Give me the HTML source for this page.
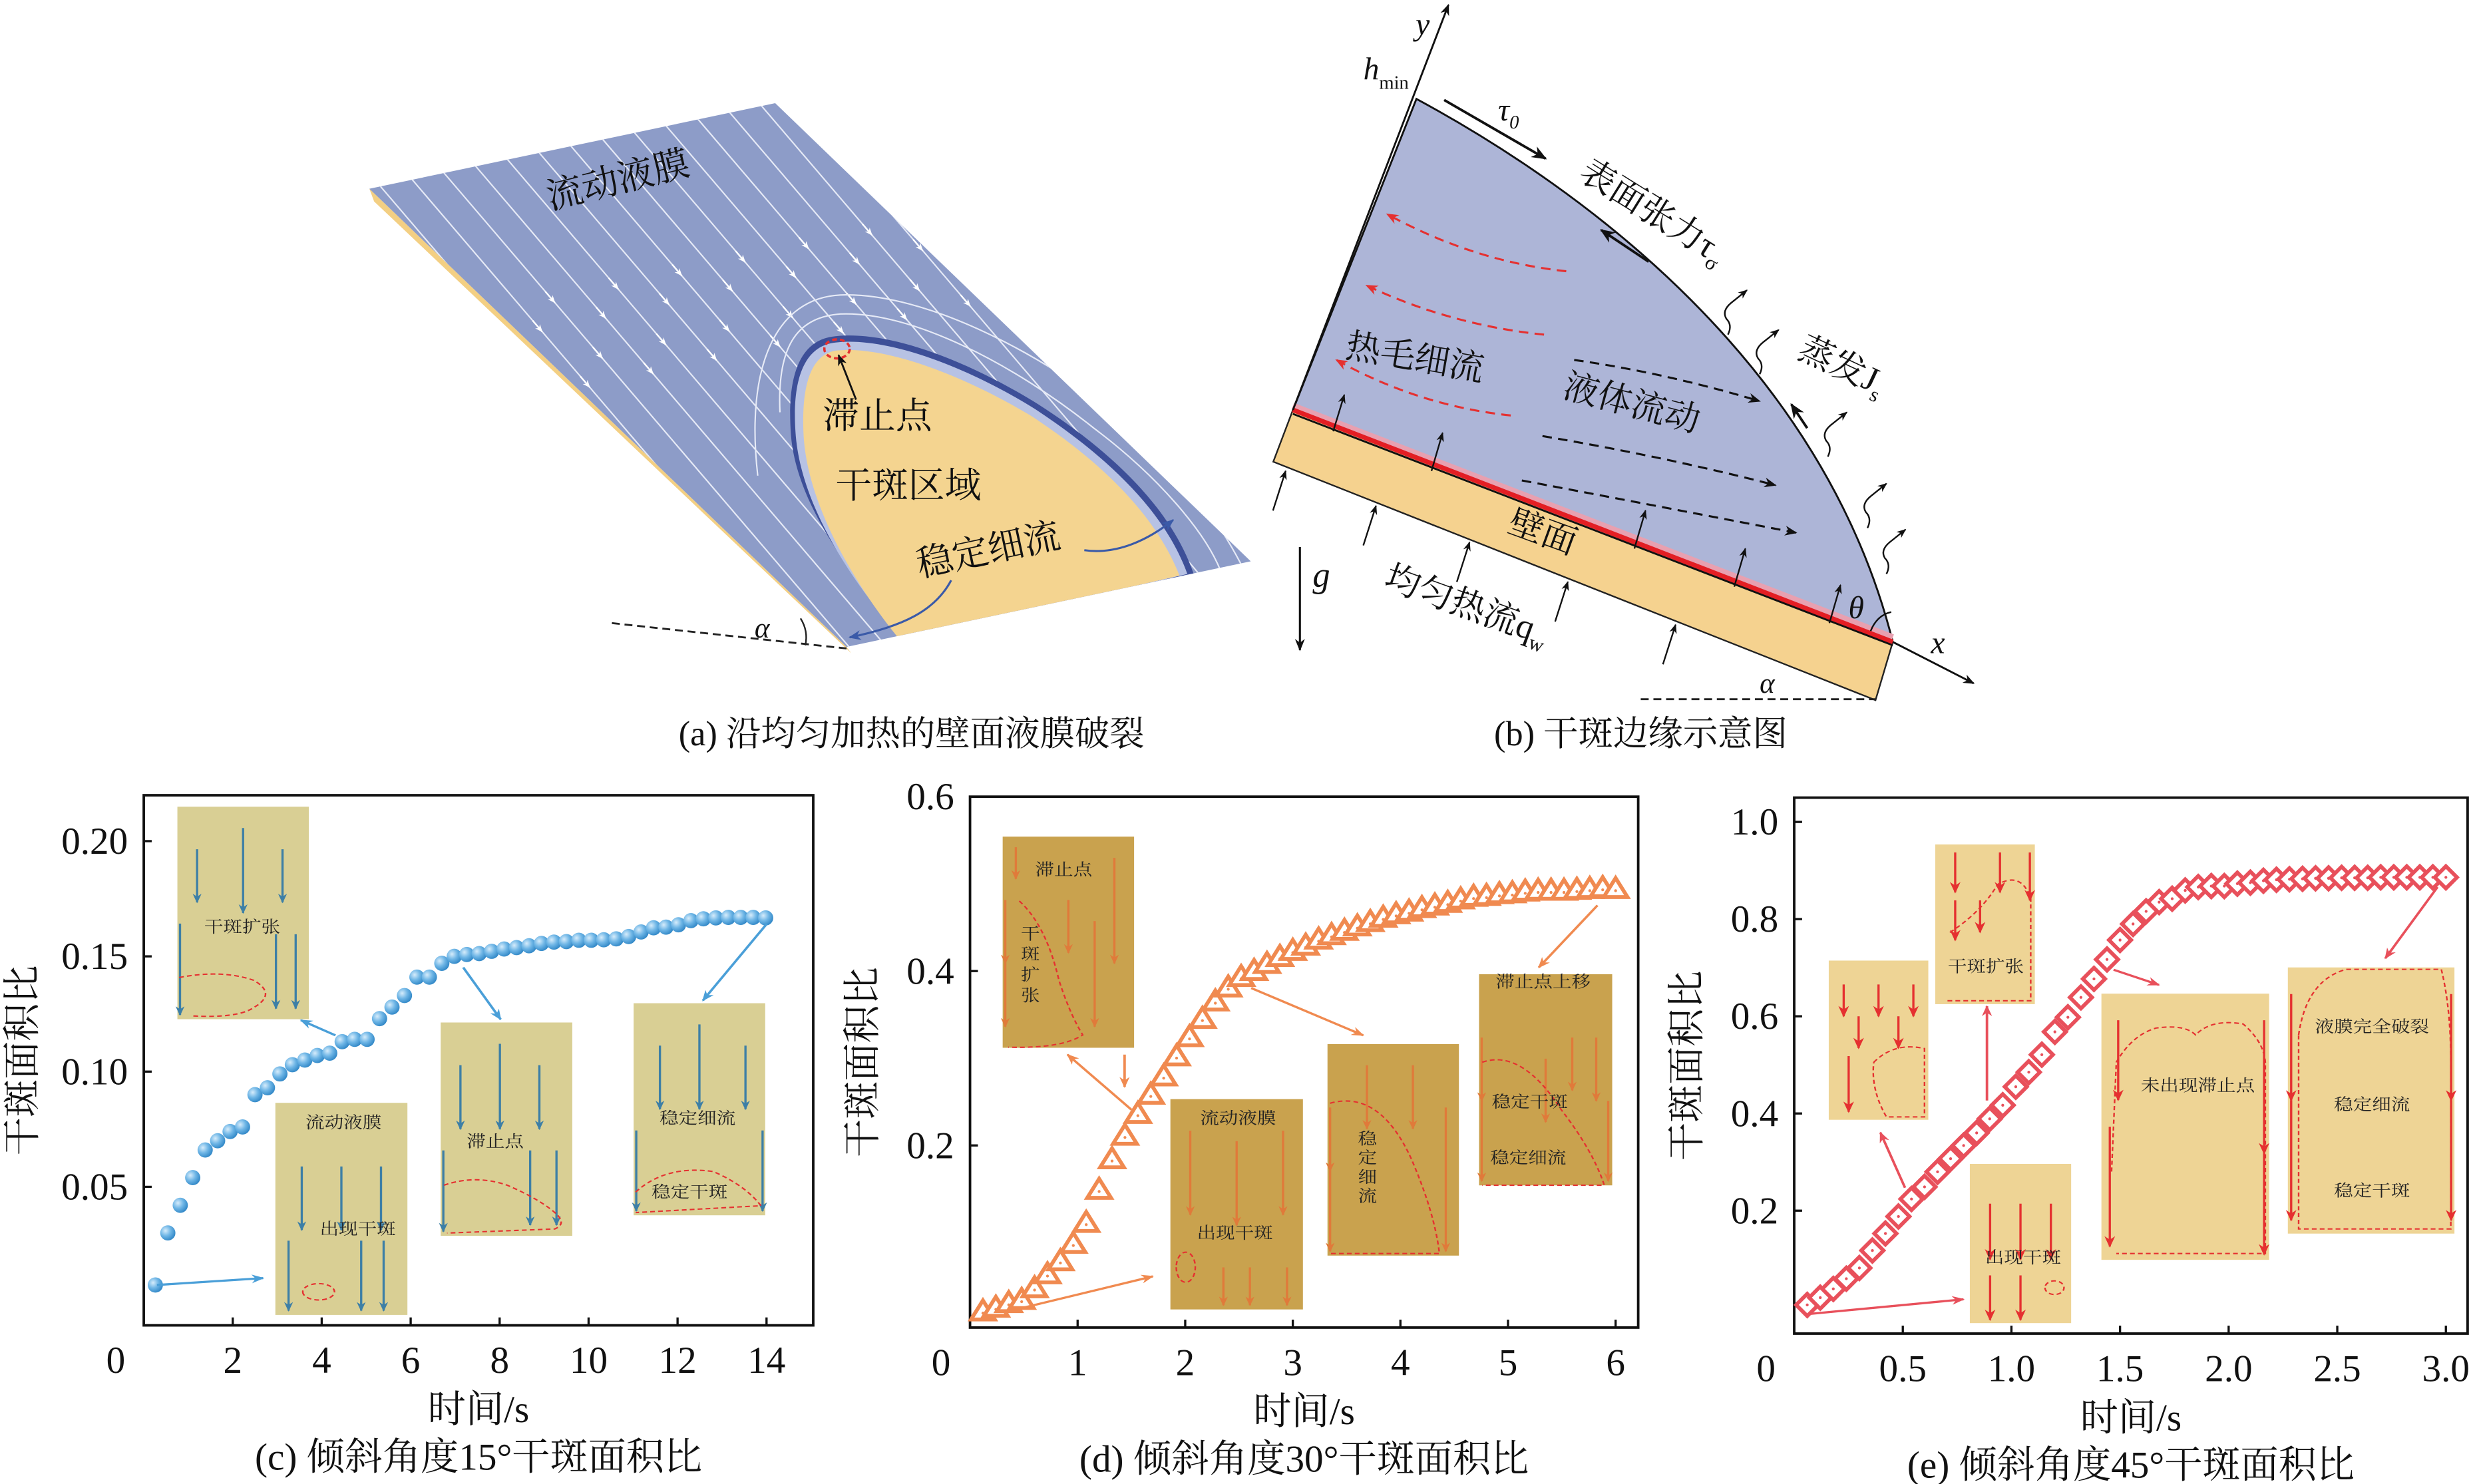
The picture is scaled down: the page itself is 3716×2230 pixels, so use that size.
<!DOCTYPE html>
<html><head><meta charset="utf-8"><title>干斑</title>
<style>
html,body{margin:0;padding:0;background:#fff;overflow:hidden;}
svg{display:block;}
text{font-family:"Liberation Serif","Noto Serif CJK SC","Noto Sans CJK SC",serif;}
</style></head>
<body>
<svg id="fig" xmlns="http://www.w3.org/2000/svg" width="3716" height="2230" viewBox="0 0 1560 936">
<defs>
<radialGradient id="sph" cx="0.35" cy="0.35" r="0.7"><stop offset="0" stop-color="#d6ecfb"/><stop offset="0.5" stop-color="#6fb6e6"/><stop offset="1" stop-color="#2f86c6"/></radialGradient>
<marker id="ahK" viewBox="0 0 10 10" refX="9" refY="5" markerWidth="6" markerHeight="6" orient="auto"><path d="M0,1 L10,5 L0,9 L3,5Z" fill="#111"/></marker>
<marker id="ahR" viewBox="0 0 10 10" refX="9" refY="5" markerWidth="6" markerHeight="6" orient="auto"><path d="M0,1 L10,5 L0,9 L3,5Z" fill="#e53030"/></marker>
<marker id="ahW" viewBox="0 0 10 10" refX="9" refY="5" markerWidth="5" markerHeight="5" orient="auto"><path d="M0,1 L10,5 L0,9 L3,5Z" fill="#fff"/></marker>
<marker id="ahB" viewBox="0 0 10 10" refX="9" refY="5" markerWidth="5" markerHeight="5" orient="auto"><path d="M0,1 L10,5 L0,9 L3,5Z" fill="#4a9fd8"/></marker>
<marker id="ahO" viewBox="0 0 10 10" refX="9" refY="5" markerWidth="5" markerHeight="5" orient="auto"><path d="M0,1 L10,5 L0,9 L3,5Z" fill="#f08a50"/></marker>
<marker id="ahP" viewBox="0 0 10 10" refX="9" refY="5" markerWidth="5" markerHeight="5" orient="auto"><path d="M0,1 L10,5 L0,9 L3,5Z" fill="#e8505b"/></marker>
<marker id="ahBl" viewBox="0 0 10 10" refX="9" refY="5" markerWidth="5" markerHeight="5" orient="auto"><path d="M0,1 L10,5 L0,9 L3,5Z" fill="#3d7fa6"/></marker>
<marker id="ahOr" viewBox="0 0 10 10" refX="9" refY="5" markerWidth="5" markerHeight="5" orient="auto"><path d="M0,1 L10,5 L0,9 L3,5Z" fill="#e07a3a"/></marker>
<marker id="ahN" viewBox="0 0 10 10" refX="9" refY="5" markerWidth="6" markerHeight="6" orient="auto"><path d="M0,1 L10,5 L0,9 L3,5Z" fill="#3a5aa8"/></marker>
<clipPath id="plateClip"><polygon points="233,119 489,65 789,354 534,408"/></clipPath>
</defs>

<!-- Panel (a) -->
<g>
<polygon points="233,119 236,127 537,412 534,408" fill="#f3cf83"/>
<polygon points="233,119 489,65 789,354 534,408" fill="#8d9cc8"/>
<g id="streams" clip-path="url(#plateClip)"></g>
<g clip-path="url(#plateClip)">
<path d="M492,260 C490,215 505,200 530,198 C575,196 640,230 690,270 C730,300 760,335 770,360" fill="none" stroke="#e6eaf6" stroke-width="0.9"/>
<path d="M478,300 C470,230 490,188 530,186 C585,184 660,225 710,265 C745,295 770,330 785,360" fill="none" stroke="#e6eaf6" stroke-width="0.9"/>
<path d="M574,406 C544,372 503,322 499,275 C496,236 505,214 527,212 C563,208 615,230 655,255 C697,282 738,318 753,362 Z" fill="#3d4f98"/>
<path d="M571,405 C541,372 506,322 502,275 C499,238 508,218 527,216 C561,212 613,233 653,258 C694,285 734,320 749,362 Z" fill="#b7c2e4"/>
<path d="M568,404 C540,370 510,320 507,276 C505,242 512,223 528,221 C560,218 610,238 650,262 C690,288 728,322 744,363 Z" fill="#f4d490"/>
</g>
<ellipse cx="528" cy="220" rx="8" ry="6" fill="none" stroke="#e53030" stroke-width="1.5" stroke-dasharray="3,2"/>
<text x="347" y="132" font-size="23" fill="#111" transform="rotate(-14 347 132)">流动液膜</text>
<line x1="540" y1="252" x2="529" y2="224" stroke="#111" stroke-width="1.2" marker-end="url(#ahK)"/>
<text x="519" y="270" font-size="23" fill="#111">滞止点</text>
<text x="527" y="314" font-size="23" fill="#111">干斑区域</text>
<text x="580" y="364" font-size="23" fill="#111" transform="rotate(-12 580 364)">稳定细流</text>
<path d="M600,366 C590,385 570,395 536,402" fill="none" stroke="#3a5aa8" stroke-width="1.3" marker-end="url(#ahN)"/>
<path d="M684,347 C705,350 725,340 740,328" fill="none" stroke="#3a5aa8" stroke-width="1.3" marker-end="url(#ahN)"/>
<line x1="386" y1="393" x2="534" y2="409" stroke="#222" stroke-width="1.2" stroke-dasharray="5,3"/>
<path d="M505,390 Q510,398 508,407" fill="none" stroke="#222" stroke-width="1"/>
<text x="476" y="402" font-size="18" font-style="italic" fill="#111">α</text>
<text x="575" y="470" font-size="22" text-anchor="middle" fill="#111">(a) 沿均匀加热的壁面液膜破裂</text>
</g>

<!-- Panel (b) -->
<g>
<polygon points="815.6,258.5 1194,404.9 1183.1,441.6 803.2,291.2" fill="#f5d28f" stroke="#222" stroke-width="1"/>
<path d="M893.5,62.3 C1000,120 1150,230 1194,404.9 L815.6,258.5 Z" fill="#adb5d7" stroke="#111" stroke-width="1.2"/>
<line x1="815.6" y1="256" x2="1194" y2="402" stroke="#e8a0b0" stroke-width="4"/>
<line x1="815.6" y1="258.5" x2="1194" y2="404.9" stroke="#e31e24" stroke-width="3"/>
<line x1="815.6" y1="261" x2="1194" y2="407" stroke="#111" stroke-width="1.2"/>
<line x1="815.6" y1="258.5" x2="913.7" y2="3" stroke="#111" stroke-width="1.2" marker-end="url(#ahK)"/>
<text x="893" y="22" font-size="20" font-style="italic" fill="#111">y</text>
<line x1="1194" y1="404.9" x2="1245" y2="431" stroke="#111" stroke-width="1.2" marker-end="url(#ahK)"/>
<text x="1218" y="412" font-size="20" font-style="italic" fill="#111">x</text>
<text x="860" y="50" font-size="20" font-style="italic" fill="#111">h<tspan font-size="12" font-style="normal" dy="6">min</tspan></text>
<line x1="911" y1="63" x2="975" y2="100" stroke="#111" stroke-width="1.6" marker-end="url(#ahK)"/>
<text x="945" y="76" font-size="20" font-style="italic" fill="#111">τ<tspan font-size="12" dy="5">0</tspan></text>
<line x1="1040" y1="165" x2="1010" y2="145" stroke="#111" stroke-width="1.6" marker-end="url(#ahK)"/>
<text x="995" y="112" font-size="22" fill="#111" transform="rotate(32 995 112)">表面张力τ<tspan font-size="13" dy="5">σ</tspan></text>
<line x1="1140" y1="270" x2="1130" y2="255" stroke="#111" stroke-width="1.6" marker-end="url(#ahK)"/>
<text x="1133" y="225" font-size="22" fill="#111" transform="rotate(25 1133 225)">蒸发J<tspan font-size="13" dy="5">s</tspan></text>
<g fill="none" stroke="#111" stroke-width="1">
<path d="M1090,211 q3,-6 -1,-10 q-3,-5 3,-10 l10,-8" marker-end="url(#ahK)"/>
<path d="M1110,236 q3,-6 -1,-10 q-3,-5 3,-10 l10,-8" marker-end="url(#ahK)"/>
<path d="M1153,288 q3,-6 -1,-10 q-3,-5 3,-10 l10,-8" marker-end="url(#ahK)"/>
<path d="M1178,333 q3,-6 -1,-10 q-3,-5 3,-10 l10,-8" marker-end="url(#ahK)"/>
<path d="M1190,362 q3,-6 -1,-10 q-3,-5 3,-10 l10,-8" marker-end="url(#ahK)"/>
</g>
<g fill="none" stroke="#e53030" stroke-width="1.3" stroke-dasharray="6,4">
<path d="M988,171 Q930,165 875,135" marker-end="url(#ahR)"/>
<path d="M974,211 Q915,205 862,180" marker-end="url(#ahR)"/>
<path d="M953,262 Q895,256 843,227" marker-end="url(#ahR)"/>
</g>
<g fill="none" stroke="#111" stroke-width="1.3" stroke-dasharray="6,4">
<path d="M993,227 Q1050,235 1110,253" marker-end="url(#ahK)"/>
<path d="M973,275 Q1050,288 1120,306" marker-end="url(#ahK)"/>
<path d="M960,303 Q1050,320 1133,336" marker-end="url(#ahK)"/>
</g>
<text x="848" y="225" font-size="22" fill="#111" transform="rotate(10 848 225)">热毛细流</text>
<text x="985" y="250" font-size="22" fill="#111" transform="rotate(15 985 250)">液体流动</text>
<text x="950" y="335" font-size="22" fill="#111" transform="rotate(20 950 335)">壁面</text>
<g stroke="#111" stroke-width="1" marker-end="url(#ahK)">
<line x1="803" y1="322" x2="811" y2="297"/><line x1="860" y1="344" x2="868" y2="319"/><line x1="919" y1="367" x2="927" y2="342"/>
<line x1="981" y1="392" x2="989" y2="367"/><line x1="1049" y1="419" x2="1057" y2="394"/><line x1="841" y1="272" x2="848" y2="249"/>
<line x1="903" y1="297" x2="910" y2="273"/><line x1="1031" y1="346" x2="1038" y2="322"/><line x1="1094" y1="370" x2="1101" y2="346"/><line x1="1154" y1="393" x2="1161" y2="369"/>
</g>
<line x1="820" y1="345" x2="820" y2="410" stroke="#111" stroke-width="1.3" marker-end="url(#ahK)"/>
<text x="828" y="370" font-size="22" font-style="italic" fill="#111">g</text>
<text x="872" y="370" font-size="22" fill="#111" transform="rotate(20 872 370)">均匀热流q<tspan font-size="13" dy="5">w</tspan></text>
<text x="1166" y="390" font-size="20" font-style="italic" fill="#111">θ</text>
<path d="M1180,398 Q1184,388 1193,386" fill="none" stroke="#111" stroke-width="1"/>
<line x1="1035" y1="441" x2="1183" y2="441" stroke="#222" stroke-width="1.2" stroke-dasharray="5,3"/>
<text x="1110" y="437" font-size="18" font-style="italic" fill="#111">α</text>
<text x="1035" y="470" font-size="22" text-anchor="middle" fill="#111">(b) 干斑边缘示意图</text>
</g>

<g id="charts"></g>
</svg>

<script>
// ---- data ----
var cTime = [0.26,0.54,0.82,1.1,1.38,1.66,1.94,2.22,2.5,2.78,3.06,3.34,3.62,3.9,4.18,4.46,4.74,5.02,5.3,5.58,5.86,6.14,6.42,6.7,6.98,7.26,7.54,7.82,8.1,8.38,8.66,8.94,9.22,9.5,9.78,10.06,10.34,10.62,10.9,11.18,11.46,11.74,12.02,12.3,12.58,12.86,13.14,13.42,13.7,13.98];
var cRatio = [0.0074,0.030,0.042,0.054,0.066,0.070,0.074,0.076,0.090,0.093,0.099,0.103,0.105,0.107,0.108,0.113,0.114,0.114,0.123,0.128,0.133,0.141,0.141,0.147,0.150,0.1508,0.1512,0.1522,0.1532,0.1538,0.1546,0.1556,0.1562,0.1564,0.157,0.157,0.1572,0.1576,0.1586,0.1606,0.1624,0.1627,0.1637,0.1655,0.1663,0.1667,0.1669,0.1669,0.1669,0.1667];
var dTime = [0.12,0.24,0.36,0.48,0.6,0.72,0.84,0.96,1.08,1.2,1.32,1.44,1.56,1.68,1.8,1.92,2.04,2.16,2.28,2.4,2.52,2.64,2.76,2.88,3.0,3.12,3.24,3.36,3.48,3.6,3.72,3.84,3.96,4.08,4.2,4.32,4.44,4.56,4.68,4.8,4.92,5.04,5.16,5.28,5.4,5.52,5.64,5.76,5.88,6.0];
var dRatio = [0.0095,0.0137,0.019,0.0226,0.036,0.052,0.067,0.087,0.111,0.149,0.184,0.211,0.236,0.258,0.279,0.302,0.324,0.345,0.365,0.381,0.393,0.400,0.408,0.416,0.423,0.429,0.436,0.441,0.446,0.451,0.456,0.461,0.465,0.468,0.472,0.475,0.478,0.482,0.485,0.486,0.488,0.489,0.491,0.492,0.492,0.492,0.493,0.494,0.495,0.494];
var eTime = [0.06,0.12,0.18,0.24,0.3,0.36,0.42,0.48,0.54,0.6,0.66,0.72,0.78,0.84,0.9,0.96,1.02,1.08,1.14,1.2,1.26,1.32,1.38,1.44,1.5,1.56,1.62,1.68,1.74,1.8,1.86,1.92,1.98,2.04,2.1,2.16,2.22,2.28,2.34,2.4,2.46,2.52,2.58,2.64,2.7,2.76,2.82,2.88,2.94,3.0];
var eRatio = [0.006,0.021,0.039,0.060,0.082,0.118,0.153,0.188,0.224,0.249,0.280,0.307,0.334,0.360,0.389,0.417,0.455,0.485,0.521,0.568,0.598,0.639,0.677,0.717,0.757,0.790,0.816,0.835,0.842,0.859,0.866,0.868,0.868,0.873,0.875,0.879,0.881,0.882,0.883,0.884,0.884,0.885,0.885,0.885,0.886,0.886,0.886,0.886,0.886,0.886];
var cXTicks = [2,4,6,8,10,12,14];
var cXLabels = ["2","4","6","8","10","12","14"];
var cYTicks = [0.05,0.10,0.15,0.20];
var cYLabels = ["0.05","0.10","0.15","0.20"];
var dXTicks = [1,2,3,4,5,6];
var dXLabels = ["1","2","3","4","5","6"];
var dYTicks = [0.2,0.4,0.6];
var dYLabels = ["0.2","0.4","0.6"];
var eXTicks = [0.5,1.0,1.5,2.0,2.5,3.0];
var eXLabels = ["0.5","1.0","1.5","2.0","2.5","3.0"];
var eYTicks = [0.2,0.4,0.6,0.8,1.0];
var eYLabels = ["0.2","0.4","0.6","0.8","1.0"];

var NS = "http://www.w3.org/2000/svg";
function mk(tag, attrs, parent){
  var el = document.createElementNS(NS, tag);
  for (var k in attrs) el.setAttribute(k, attrs[k]);
  parent.appendChild(el);
  return el;
}

// streamlines for panel (a)
(function(){
  var g = document.getElementById('streams');
  for (var i=0;i<16;i++){
    var t = i/15;
    var sx = 200 + t*300, sy = 126 - t*64;
    var ex = sx + 300, ey = sy + 351;
    var p = mk('path', {d:'M'+sx+','+sy+' L'+ex+','+ey, stroke:'#e6eaf6', 'stroke-width':'0.9', fill:'none'}, g);
    
    
    for (var j=1;j<=2;j++){
      var ax = sx + 40 + j*30 + (i%2)*12, ay = sy + (40 + j*30 + (i%2)*12)*1.17;
      var a = mk('line', {x1:ax-6, y1:ay-7, x2:ax, y2:ay, stroke:'#fff', 'stroke-width':'1', 'marker-end':'url(#ahW)'}, g);
      
      
    }
  }
})();

var charts = document.getElementById('charts');
var SQ = 'translate(0,482.8) scale(1,0.862) translate(0,-482.8)';

function inset(parent, x0, y0, x1, y1, fill, acol, amark, arrows, labels, dashPath){
  var g = mk('g', {}, parent);
  
  
  var r = mk('rect', {x:x0, y:y0, width:x1-x0, height:y1-y0, fill:fill}, g);
  
  
  arrows.forEach(function(a){
    var l = mk('line', {x1:x0+a[0]*(x1-x0), y1:y0+a[1]*(y1-y0), x2:x0+a[0]*(x1-x0), y2:y0+a[2]*(y1-y0), stroke:acol, 'stroke-width':'1.4', 'marker-end':'url(#'+amark+')'}, g);
    
    
  });
  if (dashPath){
    var p = mk('path', {d:dashPath, fill:'none', stroke:'#e53030', 'stroke-width':'1', 'stroke-dasharray':'3,2'}, g);
    
    
  }
  labels.forEach(function(lb){
    var t = mk('text', {x:lb[1], y:lb[2], 'font-size':lb[3]||12, 'text-anchor':'middle', fill:'#222'}, g);
    t.textContent = lb[0];
    
    
  });
}

function chart(name, fr, xd, yd, xt, xl, yt, yl, titleX, caption, zeroX){
  var g = mk('g', {}, charts);
  
  
  var X = function(v){ return fr.l + (v - xd[0])/(xd[1]-xd[0])*(fr.r-fr.l); };
  var Y = function(v){ return fr.b - (v - yd[0])/(yd[1]-yd[0])*(fr.b-fr.t); };
  var frame = mk('rect', {x:fr.l, y:fr.t, width:fr.r-fr.l, height:fr.b-fr.t, fill:'none', stroke:'#111', 'stroke-width':'1.6'}, g);
  
  
  xt.forEach(function(v,i){
    var tk = mk('line', {x1:X(v), y1:fr.b, x2:X(v), y2:fr.b-5, stroke:'#111', 'stroke-width':'1.4'}, g);
    
    
    var tl = mk('text', {x:X(v), y:fr.b+30, 'font-size':'24', 'text-anchor':'middle', fill:'#111'}, g);
    tl.textContent = xl[i];
    
    
  });
  var z = mk('text', {x:zeroX, y:fr.b+30, 'font-size':'24', 'text-anchor':'middle', fill:'#111'}, g);
  z.textContent = '0';
  
  
  yt.forEach(function(v,i){
    var tk = mk('line', {x1:fr.l, y1:Y(v), x2:fr.l+5, y2:Y(v), stroke:'#111', 'stroke-width':'1.4'}, g);
    
    
    var tl = mk('text', {x:fr.l-10, y:Y(v)+8, 'font-size':'24', 'text-anchor':'end', fill:'#111'}, g);
    tl.textContent = yl[i];
    
    
  });
  var xtit = mk('text', {x:(fr.l+fr.r)/2, y:fr.b+61, 'font-size':'24', 'text-anchor':'middle', fill:'#111'}, g);
  xtit.textContent = '时间/s';
  
  
  var ty = (fr.t+fr.b)/2;
  var ytit = mk('text', {x:titleX, y:ty, 'font-size':'24', 'text-anchor':'middle', fill:'#111', transform:'rotate(-90 '+titleX+' '+ty+')'}, g);
  ytit.textContent = '干斑面积比';
  
  
  var cap = mk('text', {x:(fr.l+fr.r)/2, y:fr.b+91, 'font-size':'24', 'text-anchor':'middle', fill:'#111'}, g);
  cap.textContent = caption;
  
  
  var ig = mk('g', {transform:SQ}, g);
  
  
  return {g:g, ig:ig, X:X, Y:Y};
}

function drawSeries(c, xs, ys, kind, col){
  var sg = mk('g', {}, c.g);
  
  
  xs.forEach(function(t,i){
    var x = c.X(t), y = c.Y(ys[i]), m;
    if (kind==='sphere'){
      m = mk('circle', {cx:x, cy:y, r:4.8, fill:'url(#sph)'}, sg);
    } else if (kind==='tri'){
      m = mk('path', {d:'M'+x+','+(y-7)+' L'+(x+7.5)+','+(y+5)+' L'+(x-7.5)+','+(y+5)+' Z', fill:'#fff', stroke:col, 'stroke-width':'2.4'}, sg);
    } else {
      m = mk('path', {d:'M'+x+','+(y-7)+' L'+(x+7)+','+y+' L'+x+','+(y+7)+' L'+(x-7)+','+y+' Z', fill:'#fff', stroke:col, 'stroke-width':'2.4'}, sg);
    }
    
    
    if (kind!=='sphere'){
      var d = mk('circle', {cx:x, cy:y+(kind==='tri'?1:0), r:0.9, fill:col}, sg);
      
      
    }
  });
}

function arrow(c, seg, mark, col){
  var l = mk('line', {x1:seg[0], y1:seg[1], x2:seg[2], y2:seg[3], stroke:col, 'stroke-width':'1.6', 'marker-end':'url(#'+mark+')'}, c.ag);
  
  
}
function arrowLayer(c){
  c.ag = mk('g', {transform:SQ}, c.g);
  
  
}
function vtext(c, chars, x, y0, step){
  chars.forEach(function(ch, i){
    var t = mk('text', {x:x, y:y0+i*step, 'font-size':'12', 'text-anchor':'middle', fill:'#222'}, c.ig);
    t.textContent = ch;
    
    
  });
}

// ---- chart (c) ----
var C = chart('chart-c-15deg', {l:90.7,r:513,t:501.6,b:836.0}, [0,15.05], [-0.0101,0.2199], cXTicks, cXLabels, cYTicks, cYLabels, 22, '(c) 倾斜角度15°干斑面积比', 73);
var colC='#d9cf94', arC='#3d7fa6';
inset(C.ig,111.9,513,194.8,668.5,colC,arC,'ahBl',[[0.15,0.2,0.45],[0.5,0.1,0.5],[0.8,0.2,0.45],[0.02,0.55,0.98],[0.75,0.6,0.95],[0.9,0.6,0.95]],[['干斑扩张',152.8,605]],'M113,638 Q140,632 160,640 Q175,650 160,660 Q150,668 120,666');
inset(C.ig,173.7,729.7,257,884.9,colC,arC,'ahBl',[[0.2,0.3,0.6],[0.5,0.3,0.6],[0.8,0.3,0.6],[0.1,0.65,0.98],[0.65,0.65,0.98],[0.82,0.65,0.98]],[['流动液膜',216.7,748],['出现干斑',225.7,826]],'M191,868 a10,6 0 1,0 20,0 a10,6 0 1,0 -20,0');
inset(C.ig,278,670.9,361,827,colC,arC,'ahBl',[[0.15,0.2,0.5],[0.45,0.1,0.5],[0.75,0.2,0.5],[0.02,0.6,0.98],[0.68,0.6,0.95],[0.88,0.6,0.95]],[['滞止点',312.4,762]],'M280,790 Q300,782 320,790 Q340,800 350,810 Q358,818 350,822 L282,825');
inset(C.ig,399.7,656.8,482.7,812,colC,arC,'ahBl',[[0.2,0.2,0.5],[0.5,0.1,0.5],[0.85,0.2,0.5],[0.02,0.6,0.98],[0.98,0.6,0.98]],[['稳定细流',440,745],['稳定干斑',435,799]],'M401,795 Q420,775 450,780 Q470,790 480,805 L401,810');
drawSeries(C, cTime, cRatio, 'sphere', '#4a9fd8');
arrowLayer(C);
arrow(C,[99,863,166,858],'ahB','#4a9fd8');
arrow(C,[211.6,680.3,189.8,669.2],'ahB','#4a9fd8');
arrow(C,[292.2,630.6,315.8,668.6],'ahB','#4a9fd8');
arrow(C,[483.7,598.7,443.4,654.8],'ahB','#4a9fd8');

// ---- chart (d) ----
var D = chart('chart-d-30deg', {l:611.9,r:1033.4,t:502.5,b:837.4}, [0,6.21], [-0.0089,0.6], dXTicks, dXLabels, dYTicks, dYLabels, 552, '(d) 倾斜角度30°干斑面积比', 593.6);
var colD='#c9a24e', arD='#e07a3a';
inset(D.ig,632.5,534.9,715.4,689.4,colD,arD,'ahOr',[[0.1,0.05,0.2],[0.85,0.1,0.6],[0.5,0.3,0.55],[0.02,0.3,0.6],[0.02,0.6,0.9],[0.7,0.4,0.9]],[['滞止点',671,563]],'M643,582 Q660,600 668,640 Q675,665 683,680 Q670,690 636,689');
vtext(D, ['干','斑','扩','张'], 650, 610, 15);
inset(D.ig,738.3,727,821.9,880.9,colD,arD,'ahOr',[[0.15,0.15,0.55],[0.5,0.2,0.6],[0.85,0.15,0.55],[0.4,0.8,0.98],[0.6,0.8,0.98],[0.88,0.8,0.98]],[['流动液膜',781,745],['出现干斑',779,829]],'M742,850 a6,11 0 1,0 12,0 a6,11 0 1,0 -12,0');
inset(D.ig,837.4,686.7,920.3,841.5,colD,arD,'ahOr',[[0.3,0.1,0.4],[0.65,0.1,0.4],[0.02,0.3,0.6],[0.02,0.6,0.98],[0.9,0.3,0.98]],[],'M839,730 Q870,720 890,770 Q905,810 908,840 L839,840');
vtext(D, ['稳','定','细','流'], 862.6, 760, 14);
inset(D.ig,933,635.6,1017,790.1,colD,arD,'ahOr',[[0.5,0.4,0.7],[0.7,0.3,0.55],[0.88,0.3,0.6],[0.02,0.3,0.6],[0.02,0.6,0.98],[0.97,0.6,0.98]],[['滞止点上移',973.4,645],['稳定干斑',965,733],['稳定细流',964,774]],'M935,700 Q960,690 985,735 Q1005,765 1012,790 L935,790');
drawSeries(D, dTime, dRatio, 'tri', '#f08a50');
arrowLayer(D);
arrow(D,[644.9,879.8,727.2,856.7],'ahO','#f08a50');
arrow(D,[713.7,734.7,673.4,694.4],'ahO','#f08a50');
arrow(D,[709.4,694.4,709.4,718],'ahO','#f08a50');
arrow(D,[789.3,645.7,859.9,680.3],'ahO','#f08a50');
arrow(D,[1007.7,585.2,970.7,630.6],'ahO','#f08a50');

// ---- chart (e) ----
var E = chart('chart-e-45deg', {l:1131.8,r:1556.6,t:503.1,b:841.2}, [0,3.10], [-0.053,1.05], eXTicks, eXLabels, eYTicks, eYLabels, 1072, '(e) 倾斜角度45°干斑面积比', 1114);
var colE='#eed495', arE='#e53030';
inset(E.ig,1153.6,625.6,1216.4,742.1,colE,arE,'ahR',[[0.15,0.15,0.35],[0.5,0.15,0.35],[0.85,0.15,0.35],[0.3,0.35,0.55],[0.7,0.35,0.55],[0.2,0.6,0.95]],[],'M1182,700 Q1195,685 1214,690 L1214,740 L1190,740 Q1180,720 1182,700');
inset(E.ig,1220.8,540.6,1283.6,657.5,colE,arE,'ahR',[[0.2,0.05,0.3],[0.65,0.05,0.3],[0.95,0.05,0.35],[0.2,0.35,0.6],[0.45,0.35,0.55]],[['干斑扩张',1252.7,634]],'M1230,605 Q1250,590 1260,570 Q1275,560 1281,580 L1281,655 L1228,655');
inset(E.ig,1242.6,774.4,1306.5,890.9,colE,arE,'ahR',[[0.2,0.25,0.6],[0.5,0.25,0.6],[0.8,0.25,0.6],[0.2,0.7,0.98],[0.5,0.7,0.98]],[['出现干斑',1276.2,847]],'M1290,865 a6,5 0 1,0 12,0 a6,5 0 1,0 -12,0');
inset(E.ig,1325.6,649.8,1431.4,844.6,colE,arE,'ahR',[[0.1,0.1,0.4],[0.97,0.1,0.6],[0.05,0.5,0.95],[0.97,0.6,0.98]],[['未出现滞止点',1386.4,721]],'M1332,780 L1335,700 Q1345,680 1360,675 Q1378,672 1385,680 Q1395,668 1415,672 Q1428,685 1429,700 L1429,840 L1335,840');
inset(E.ig,1443.2,630.6,1548.3,825.4,colE,arE,'ahR',[[0.02,0.1,0.5],[0.98,0.1,0.5],[0.02,0.5,0.95],[0.98,0.5,0.95]],[['液膜完全破裂',1496.3,678],['稳定细流',1496.3,735],['稳定干斑',1496.3,798]],'M1450,680 Q1455,640 1480,632 L1540,632 Q1546,660 1546,700 L1546,822 L1450,822 Z');
drawSeries(E, eTime, eRatio, 'diamond', '#e8505b');
arrowLayer(E);
arrow(E,[1141.2,884.2,1238.6,873.5],'ahP','#e8505b');
arrow(E,[1201.7,791.8,1186.2,751.5],'ahP','#e8505b');
arrow(E,[1253.4,728,1253.4,659],'ahP','#e8505b');
arrow(E,[1333.3,632.3,1361.9,643.4],'ahP','#e8505b');
arrow(E,[1537.6,571.8,1504.7,623.9],'ahP','#e8505b');
</script>
</body></html>
